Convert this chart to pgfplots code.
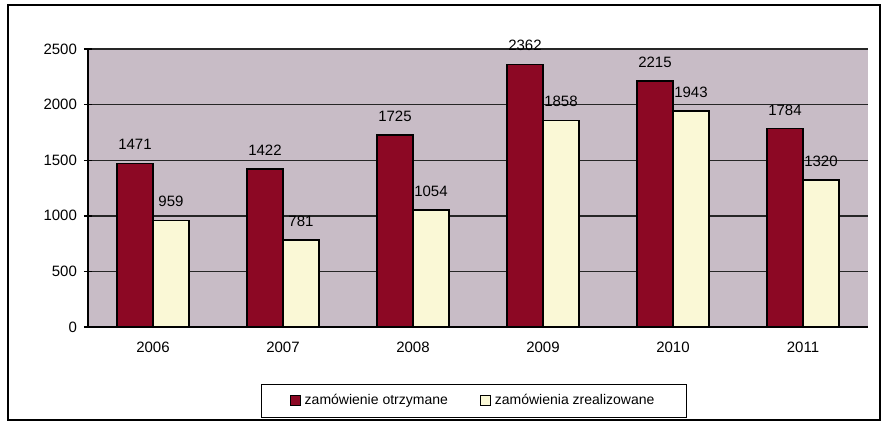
\documentclass[border=0pt]{standalone}
\usepackage{fontspec}
\setmainfont{Liberation Sans}
\usepackage{pgfplots}
\pgfplotsset{compat=1.18}
\definecolor{barred}{RGB}{140,8,36}
\definecolor{baryel}{RGB}{250,248,214}
\definecolor{plotbg}{RGB}{200,188,198}

\begin{document}
\begin{tikzpicture}
\begin{axis}[
 scale only axis,
 width=390pt, height=139pt,
 clip=false,
 xmin=-0.5, xmax=5.5,
 ymin=0, ymax=2500,
 xtick={0,1,2,3,4,5},
 xticklabels={2006,2007,2008,2009,2010,2011},
 ytick={0,500,1000,1500,2000,2500},
 ymajorgrids,
 grid style={black!85, line width=0.7pt},
 axis background/.style={fill=plotbg},
 axis x line*=bottom, axis y line*=left,
 axis line style={black, line width=0.8pt},
 x tick style={draw=none},
 y tick style={black, line width=0.7pt},
 major tick length=4pt,
 tick align=center,
 tick label style={font=\fontsize{7.5}{9}\selectfont},
 /pgf/number format/assume math mode=true,
 yticklabel style={/pgf/number format/1000 sep={}},
 ybar=0pt, bar width=18pt,
 nodes near coords,
 every node near coord/.append style={font=\fontsize{7.5}{9}\selectfont, yshift=3pt, /pgf/number format/1000 sep={}},
 legend style={at={(axis description cs:0.495,-0.266)}, anchor=center,
   legend columns=2, draw=black, line width=0.6pt,
   font=\fontsize{7}{8}\selectfont, inner xsep=14pt, inner ysep=3pt,
   /tikz/every even column/.append style={column sep=14pt}},
 legend image code/.code={\draw[#1, line width=0.5pt] (0pt,-2.5pt) rectangle (5pt,2.5pt);},
]
\addplot[fill=barred, draw=black, line width=0.8pt] coordinates {
 (0,1471) (1,1422) (2,1725) (3,2362) (4,2215) (5,1784)
};
\addplot[fill=baryel, draw=black, line width=0.8pt] coordinates {
 (0,959) (1,781) (2,1054) (3,1858) (4,1943) (5,1320)
};
\legend{zamówienie otrzymane, zamówienia zrealizowane}
\draw[line width=1.3pt] (axis description cs:-0.1026,-0.3345) rectangle (axis description cs:1.0154,1.158);
\path (axis description cs:-0.1128,-0.3525) rectangle (axis description cs:1.0231,1.1763);
\end{axis}
\end{tikzpicture}
\end{document}
